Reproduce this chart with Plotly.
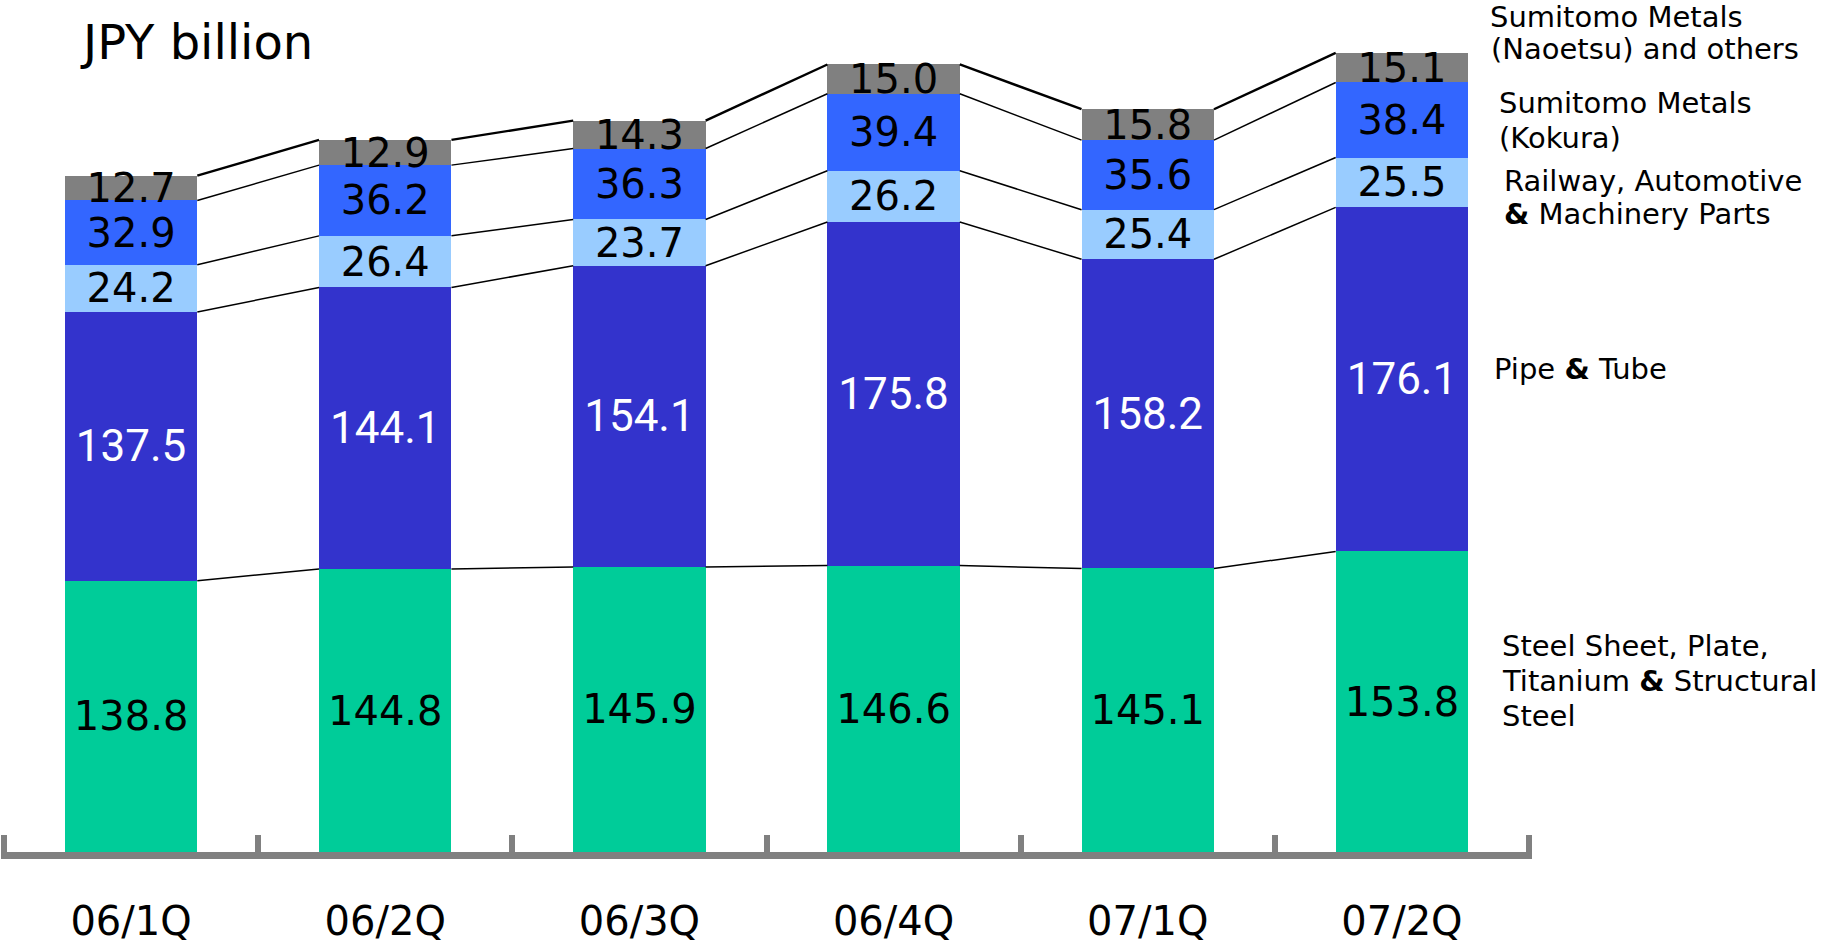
import plotly.graph_objects as go

# ---------------- data ----------------
categories = ["06/1Q", "06/2Q", "06/3Q", "06/4Q", "07/1Q", "07/2Q"]
steel = [138.8, 144.8, 145.9, 146.6, 145.1, 153.8]
pipe = [137.5, 144.1, 154.1, 175.8, 158.2, 176.1]
railway = [24.2, 26.4, 23.7, 26.2, 25.4, 25.5]
kokura = [32.9, 36.2, 36.3, 39.4, 35.6, 38.4]
naoetsu = [12.7, 12.9, 14.3, 15.0, 15.8, 15.1]

segment_names = [
    "Steel Sheet, Plate, Titanium & Structural Steel",
    "Pipe & Tube",
    "Railway, Automotive & Machinery Parts",
    "Sumitomo Metals (Kokura)",
    "Sumitomo Metals (Naoetsu) and others",
]
series = [steel, pipe, railway, kokura, naoetsu]
colors = ["#00CC99", "#3333CC", "#99CCFF", "#3366FF", "#808080"]
label_colors = ["black", "white", "black", "black", "black"]

legend_lines = [
    ("Sumitomo Metals", 1488, 17),
    ("(Naoetsu) and others", 1489, 49),
    ("Sumitomo Metals", 1497, 103),
    ("(Kokura)", 1497, 138),
    ("Railway, Automotive", 1502, 181),
    ("<b>&</b> Machinery Parts", 1502, 214),
    ("Pipe <b>&</b> Tube", 1492, 369),
    ("Steel Sheet, Plate,", 1500, 646),
    ("Titanium <b>&</b> Structural", 1500, 681),
    ("Steel", 1500, 716),
]

# ---------------- layout constants ----------------
W, H = 1827, 944
PLOT_BOTTOM = 852          # px of y=0
X_LEFT, X_RIGHT = 4, 1529  # px of the outer category boundaries
BAR_W = 0.521
Y_MAX = 436
FONT = "DejaVu Sans"
N = len(categories)
PAD = 0.012                # extra range beyond outer boundaries (category units)
STEP = (X_RIGHT - X_LEFT) / N
XR = [-0.5 - PAD, N - 0.5 + PAD]
DOMAIN = [(X_LEFT - PAD * STEP) / W, (X_RIGHT + PAD * STEP) / W]

fig = go.Figure()

# stacked bars with centred value labels
for k, (name, vals, col) in enumerate(zip(segment_names, series, colors)):
    white = label_colors[k] == "white"
    fig.add_trace(go.Bar(
        x=categories, y=vals, name=name, width=BAR_W,
        marker=dict(color=col, line=dict(width=0)),
        text=[f"{v:.1f}" for v in vals], texttemplate="%{text}",
        textposition="inside", insidetextanchor="middle",
        constraintext="none", textangle=0, cliponaxis=False,
        insidetextfont=dict(family="Roboto" if white else FONT,
                            size=44 if white else 40,
                            color=label_colors[k]),
        hoverinfo="skip", showlegend=False,
    ))

# cumulative tops
cum = []
run = [0.0] * N
for vals in series:
    run = [a + b for a, b in zip(run, vals)]
    cum.append(list(run))

# connector lines between bars (numeric overlay axis)
for lvl, tops in enumerate(cum):
    xs, ys = [], []
    for i in range(N - 1):
        xs += [i + BAR_W / 2, i + 1 - BAR_W / 2, None]
        ys += [tops[i], tops[i + 1], None]
    fig.add_trace(go.Scatter(
        x=xs, y=ys, xaxis="x2", yaxis="y", mode="lines",
        line=dict(color="black", width=2.4 if lvl == len(cum) - 1 else 1.5),
        hoverinfo="skip", showlegend=False,
    ))

annotations = [dict(
    text="JPY billion", x=78 / W, y=(PLOT_BOTTOM - 42) / PLOT_BOTTOM,
    xref="paper", yref="paper", xanchor="left", yanchor="middle",
    showarrow=False, font=dict(family=FONT, size=48, color="black"),
)]
for txt, px, py in legend_lines:
    annotations.append(dict(
        text=txt, x=px / W, y=(PLOT_BOTTOM - py) / PLOT_BOTTOM,
        xref="paper", yref="paper", xanchor="left", yanchor="middle",
        showarrow=False, font=dict(family=FONT, size=29, color="black"),
    ))

fig.update_layout(
    width=W, height=H,
    margin=dict(l=0, r=0, t=0, b=H - PLOT_BOTTOM, pad=0, autoexpand=False),
    paper_bgcolor="white", plot_bgcolor="white",
    barmode="stack", showlegend=False, uniformtext=dict(mode=False),
    xaxis=dict(
        type="category", domain=DOMAIN, range=XR,
        ticks="", showline=True, linecolor="#808080", linewidth=7,
        showgrid=False, zeroline=False, automargin=False,
        tickfont=dict(family=FONT, size=40, color="black"),
        ticklabelstandoff=28,
    ),
    xaxis2=dict(
        overlaying="x", anchor="y", side="bottom", range=XR,
        tickmode="array", tickvals=[i - 0.5 for i in range(N + 1)],
        showticklabels=False, ticks="inside", ticklen=17, tickwidth=6,
        tickcolor="#808080", showline=False,
        showgrid=False, zeroline=False, automargin=False,
    ),
    yaxis=dict(range=[0, Y_MAX], visible=False, showgrid=False,
               zeroline=False, automargin=False),
    annotations=annotations,
)

fig.write_html("out.html")
